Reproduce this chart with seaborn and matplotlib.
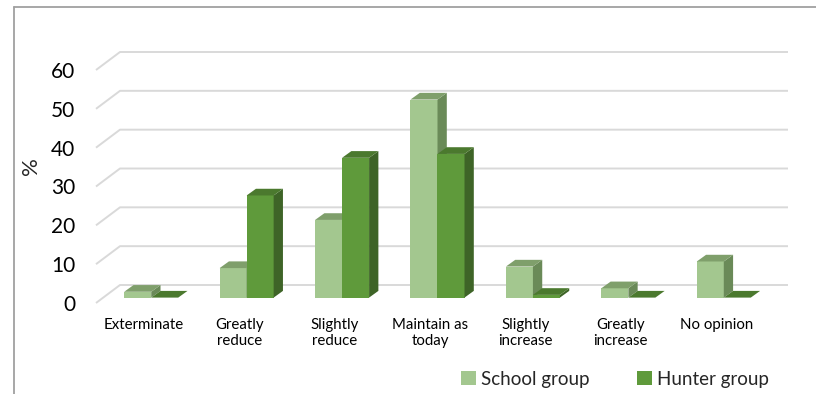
import numpy as np
import pandas as pd
import matplotlib
matplotlib.use("Agg")
import matplotlib.pyplot as plt
from matplotlib.patches import Polygon, Patch
from matplotlib.lines import Line2D
from matplotlib.transforms import ScaledTranslation
import seaborn as sns

# Survey answers (% of respondents per group)
categories = ["Exterminate", "Greatly\nreduce", "Slightly\nreduce", "Maintain as\ntoday",
              "Slightly\nincrease", "Greatly\nincrease", "No opinion"]
school_group = [1.5, 7.6, 20, 51, 8, 2.4, 9.3]
hunter_group = [0, 26.3, 36, 37, 0.7, 0, 0]
series_names = ["School group", "Hunter group"]
y_ticks = [0, 10, 20, 30, 40, 50, 60]

df = pd.DataFrame({
    "category": categories * 2,
    "value": school_group + hunter_group,
    "group": [series_names[0]] * len(categories) + [series_names[1]] * len(categories),
})

sns.set_theme(style="white")
plt.rcParams["font.family"] = ["Lato", "DejaVu Sans"]

# colours: front, top, side faces for each series
face_cols = {
    series_names[0]: ("#A3C78F", "#7F9F6B", "#6A8A58"),
    series_names[1]: ("#5F9A3B", "#4B792E", "#3E6427"),
}

W, H = 816, 394
fig = plt.figure(figsize=(W / 100, H / 100), dpi=100)
ax = fig.add_axes([96 / W, (H - 303) / H, 668 / W, 233 / H])

sns.barplot(data=df, x="category", y="value", hue="group", order=categories,
            hue_order=series_names,
            palette=[face_cols[n][0] for n in series_names],
            width=0.566, linewidth=0, saturation=1, legend=False, ax=ax)

ax.set_xlim(-0.5, len(categories) - 0.5)
ax.set_ylim(0, 60)
ax.set_yticks(y_ticks)
ax.set_xlabel("")
ax.set_ylabel("")
for s in ax.spines.values():
    s.set_visible(False)
ax.tick_params(axis="both", length=0)
ax.tick_params(axis="y", labelsize=15, pad=15, labelcolor="#000000")
ax.tick_params(axis="x", labelsize=10.8, pad=11, labelcolor="#000000")
for lbl in ax.get_xticklabels():
    lbl.set_linespacing(1.15)

# back wall gridlines (the wall sits behind the front plane)
px_x = 668 / len(categories)          # pixels per category
px_y = 233 / 60                       # pixels per percent
wall_dx, wall_dy = 24 / px_x, 18 / px_y
x_lo, x_hi = -0.5, len(categories) - 0.5
for v in y_ticks:
    ax.plot([x_lo, x_lo + wall_dx, x_hi + wall_dx], [v, v + wall_dy, v + wall_dy],
            color="#D9D9D9", lw=1.4, zorder=0, clip_on=False, solid_capstyle="butt")

# bars stand part-way between the front plane and the wall
shift = ax.transData + ScaledTranslation(7.5 / 100, 5.4 / 100, fig.dpi_scale_trans)
bar_dx, bar_dy = 9.3 / px_x, 6.7 / px_y

for k, (name, cont) in enumerate(zip(series_names, ax.containers)):
    front, top, side = face_cols[name]
    z = 2 + k
    for bar in cont:
        bar.set_transform(shift)
        bar.set_zorder(z)
        bar.set_clip_on(False)
        x0 = bar.get_x()
        x1 = x0 + bar.get_width()
        h = bar.get_height()
        top_face = Polygon([(x0, h), (x1, h), (x1 + bar_dx, h + bar_dy), (x0 + bar_dx, h + bar_dy)],
                           closed=True, facecolor=top, edgecolor="none",
                           transform=shift, zorder=z, clip_on=False)
        side_face = Polygon([(x1, 0), (x1 + bar_dx, bar_dy), (x1 + bar_dx, h + bar_dy), (x1, h)],
                            closed=True, facecolor=side, edgecolor="none",
                            transform=shift, zorder=z, clip_on=False)
        ax.add_patch(side_face)
        ax.add_patch(top_face)

fig.text(31 / W, 1 - 166 / H, "%", rotation=90, ha="center", va="center", fontsize=16)

handles = [Patch(facecolor=face_cols[n][0], edgecolor="none") for n in series_names]
fig.legend(handles, series_names, loc="center", bbox_to_anchor=(615 / W, 1 - 379 / H),
           ncol=2, frameon=False, fontsize=13.5, handlelength=0.8, handleheight=0.8,
           handletextpad=0.3, columnspacing=2.5, borderaxespad=0)

# chart area border
bx, by = 14 / W, 1 - 7 / H
fig.add_artist(Line2D([bx, 1.0], [by, by], transform=fig.transFigure, color="#A0A0A0", lw=1.3))
fig.add_artist(Line2D([bx, bx], [by, 0.0], transform=fig.transFigure, color="#A0A0A0", lw=1.3))

fig.savefig("out.png", dpi=100, facecolor="white")
